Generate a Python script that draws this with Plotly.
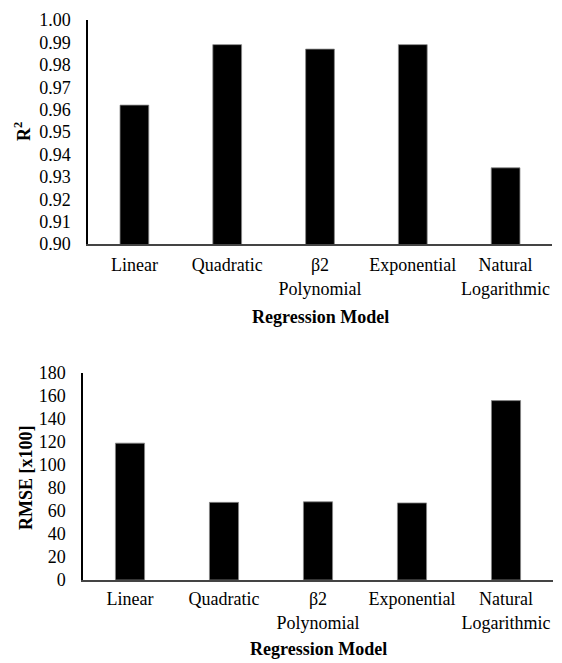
import plotly.graph_objects as go

categories = ["Linear", "Quadratic", "β2<br>Polynomial", "Exponential", "Natural<br>Logarithmic"]
r2_values = [0.962, 0.989, 0.987, 0.989, 0.934]
rmse_values = [119, 67.5, 68, 67, 156]
r2_ticks = [0.90, 0.91, 0.92, 0.93, 0.94, 0.95, 0.96, 0.97, 0.98, 0.99, 1.00]
rmse_ticks = [0, 20, 40, 60, 80, 100, 120, 140, 160, 180]

W, H = 562, 663
FONT = "Liberation Serif, Times New Roman, serif"
FS = 18

fig = go.Figure()
fig.add_trace(go.Bar(x=categories, y=r2_values,
                     marker=dict(color="black", line=dict(color="#888", width=0.8)),
                     xaxis="x", yaxis="y", width=0.31, cliponaxis=True))
fig.add_trace(go.Bar(x=categories, y=rmse_values,
                     marker=dict(color="black", line=dict(color="#888", width=0.8)),
                     xaxis="x2", yaxis="y2", width=0.31))


def py(px):
    return 1 - px / H


def yaxis(**kw):
    d = dict(showgrid=False, zeroline=False, showline=True, linecolor="black", linewidth=1.5,
             tickfont=dict(family=FONT, size=FS, color="black"), ticks="", fixedrange=True,
             ticklabelstandoff=12, automargin=False)
    d.update(kw)
    return d


def xaxis(**kw):
    d = dict(showgrid=False, zeroline=False, showline=True, linecolor="#444", linewidth=1.5,
             tickfont=dict(family=FONT, size=FS, color="black"), ticks="", fixedrange=True,
             ticklabelstandoff=4, automargin=False)
    d.update(kw)
    return d


fig.update_layout(
    template="none",
    width=W, height=H, margin=dict(l=0, r=0, t=0, b=0, pad=0),
    paper_bgcolor="white", plot_bgcolor="white", showlegend=False,
    font=dict(family=FONT, color="black"),
    xaxis=xaxis(domain=[88 / W, 552 / W], anchor="y"),
    yaxis=yaxis(domain=[py(244), py(20)], anchor="x", range=[0.90, 1.00],
                tickvals=r2_ticks, tickformat=".2f"),
    xaxis2=xaxis(domain=[83 / W, 553 / W], anchor="y2", ticklabelstandoff=2),
    yaxis2=yaxis(domain=[py(580), py(373)], anchor="x2", range=[0, 180], tickvals=rmse_ticks),
)

tfont = dict(family=FONT, size=FS, color="black")
annotations = [
    dict(text="<b>Regression Model</b>", x=(88 + 552) / 2 / W, y=py(317), xref="paper", yref="paper",
         showarrow=False, font=tfont, xanchor="center", yanchor="middle"),
    dict(text="<b>Regression Model</b>", x=(83 + 553) / 2 / W, y=py(661), xref="paper", yref="paper",
         showarrow=False, font=tfont, xanchor="center", yanchor="bottom"),
    dict(text="<b>R<sup>2</sup></b>", x=23 / W, y=py(132), xref="paper", yref="paper", textangle=-90,
         showarrow=False, font=tfont, xanchor="center", yanchor="middle"),
    dict(text="<b>RMSE [x100]</b>", x=26 / W, y=py(477), xref="paper", yref="paper", textangle=-90,
         showarrow=False, font=tfont, xanchor="center", yanchor="middle"),
]
fig.update_layout(annotations=annotations)

fig.write_html("out.html", config={"displayModeBar": False},
               post_script="document.body.style.margin='0';document.body.style.overflow='hidden';")
